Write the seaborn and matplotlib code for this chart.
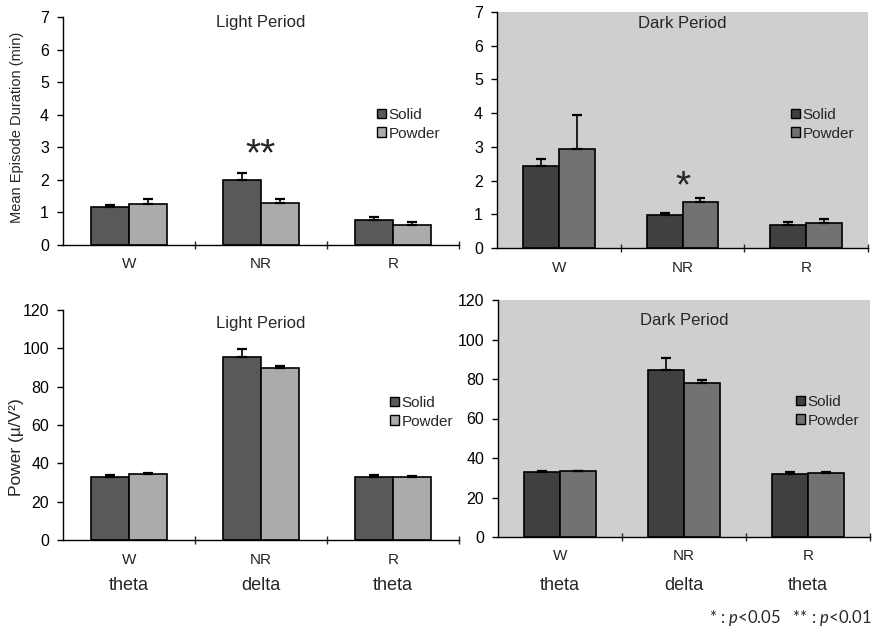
import numpy as np
import pandas as pd
import matplotlib
matplotlib.use("Agg")
import matplotlib.pyplot as plt
from matplotlib.patches import Patch
import seaborn as sns

# ---------------- data ----------------
stages = ["W", "NR", "R"]
groups = ["Solid", "Powder"]
bands = ["theta", "delta", "theta"]

dur_light_solid = [1.16, 2.01, 0.77]
dur_light_solid_err = [0.08, 0.20, 0.10]
dur_light_powder = [1.27, 1.30, 0.61]
dur_light_powder_err = [0.15, 0.11, 0.11]

dur_dark_solid = [2.44, 0.97, 0.67]
dur_dark_solid_err = [0.19, 0.06, 0.11]
dur_dark_powder = [2.95, 1.36, 0.75]
dur_dark_powder_err = [1.0, 0.12, 0.12]

pow_light_solid = [33.0, 95.3, 32.7]
pow_light_solid_err = [1.0, 4.2, 1.2]
pow_light_powder = [34.4, 89.7, 33.0]
pow_light_powder_err = [0.4, 1.3, 0.4]

pow_dark_solid = [32.8, 84.7, 32.1]
pow_dark_solid_err = [0.7, 5.9, 1.0]
pow_dark_powder = [33.4, 77.9, 32.3]
pow_dark_powder_err = [0.2, 1.6, 0.7]

sig_light = ["", "**", ""]
sig_dark = ["", "*", ""]

# ---------------- style ----------------
sns.set_style("white")
plt.rcParams["font.family"] = ["Liberation Sans", "DejaVu Sans"]
plt.rcParams["mathtext.fontset"] = "custom"
plt.rcParams["mathtext.rm"] = "Lato"
plt.rcParams["mathtext.it"] = "Lato:italic"

light_colors = {"Solid": "#595959", "Powder": "#ababab"}
dark_colors = {"Solid": "#404040", "Powder": "#727272"}
dark_bg = "#cfcfcf"

fig = plt.figure(figsize=(8.77, 6.33), dpi=100)
fig.patch.set_facecolor("white")

W, H = 877.0, 633.0


def ax_at(left, top, right, bottom):
    return fig.add_axes([left / W, 1 - bottom / H, (right - left) / W, (bottom - top) / H])


def make_df(solid, powder):
    return pd.DataFrame({
        "stage": stages * 2,
        "group": ["Solid"] * 3 + ["Powder"] * 3,
        "value": list(solid) + list(powder),
    })


def panel(ax, solid, serr, powder, perr, colors, bg, ylim, yticks, title,
          title_y, sig, sig_y, legend_xy):
    df = make_df(solid, powder)
    sns.barplot(data=df, x="stage", y="value", hue="group", order=stages,
                hue_order=groups, palette=colors, width=0.58, errorbar=None,
                edgecolor="black", linewidth=1.2, legend=False, ax=ax,
                saturation=1)
    errs = [serr, perr]
    for cont, e in zip(ax.containers, errs):
        xs = [p.get_x() + p.get_width() / 2 for p in cont.patches]
        hs = [p.get_height() for p in cont.patches]
        ax.errorbar(xs, hs, yerr=[np.zeros(len(e)), e], fmt="none",
                    ecolor="black", elinewidth=1.2, capsize=3.5, capthick=1.6,
                    zorder=1)
    ax.set_facecolor(bg)
    ax.set_xlim(-0.5, 2.5)
    ax.set_ylim(*ylim)
    ax.set_yticks(yticks)
    ax.set_xlabel("")
    ax.set_ylabel("")
    for s in ["top", "right"]:
        ax.spines[s].set_visible(False)
    for s in ["left", "bottom"]:
        ax.spines[s].set_color("black")
        ax.spines[s].set_linewidth(1.0)
    ax.tick_params(axis="y", direction="out", length=4, width=1, labelsize=11.5,
                   left=True, pad=6, colors="black")
    ax.tick_params(axis="x", which="major", length=0, labelsize=11, pad=9)
    ax.set_xticks([0.5, 1.5, 2.5], minor=True)
    ax.tick_params(axis="x", which="minor", direction="inout", length=6, width=1,
                   bottom=True)
    ax.text(1.0, title_y, title, transform=ax.get_xaxis_transform(),
            ha="center", va="center", fontsize=12)
    for i, s in enumerate(sig):
        if s:
            ax.text(i, sig_y, s, ha="center", va="center", fontsize=28)
    handles = [Patch(facecolor=colors[g], edgecolor="black", linewidth=1.0)
               for g in groups]
    fig.legend(handles, groups, loc="upper left",
               bbox_to_anchor=(legend_xy[0] / W, 1 - legend_xy[1] / H),
               frameon=False, fontsize=11, handlelength=0.6, handleheight=0.6,
               handletextpad=0.15, labelspacing=0.3, borderpad=0,
               borderaxespad=0)


ax1 = ax_at(63, 17, 459, 245)
panel(ax1, dur_light_solid, dur_light_solid_err, dur_light_powder,
      dur_light_powder_err, light_colors, "white", (0, 7), range(0, 8),
      "Light Period", 0.975, sig_light, 2.75, (377, 108))

ax2 = ax_at(497, 12, 868, 248)
panel(ax2, dur_dark_solid, dur_dark_solid_err, dur_dark_powder,
      dur_dark_powder_err, dark_colors, dark_bg, (0, 7), range(0, 8),
      "Dark Period", 0.95, sig_dark, 1.8, (791, 108))

ax3 = ax_at(63, 310, 459, 540)
panel(ax3, pow_light_solid, pow_light_solid_err, pow_light_powder,
      pow_light_powder_err, light_colors, "white", (0, 120), range(0, 121, 20),
      "Light Period", 0.94, ["", "", ""], 0, (390, 396))

ax4 = ax_at(498, 300, 870, 537)
panel(ax4, pow_dark_solid, pow_dark_solid_err, pow_dark_powder,
      pow_dark_powder_err, dark_colors, dark_bg, (0, 120), range(0, 121, 20),
      "Dark Period", 0.915, ["", "", ""], 0, (796, 395))

for ax, yoff in [(ax3, -0.20), (ax4, -0.205)]:
    for i, b in enumerate(bands):
        ax.text(i, yoff, b, transform=ax.get_xaxis_transform(), ha="center",
                va="center", fontsize=13)

fig.text(17 / W, 1 - 127 / H, "Mean Episode Duration (min)", rotation=90,
         ha="center", va="center", fontsize=10.5)
fig.text(17 / W, 1 - 447 / H, "Power (µ/V²)", rotation=90,
         ha="center", va="center", fontsize=12.5)

fig.text(872 / W, 1 - 618 / H, r"* : $p$<0.05   ** : $p$<0.01", ha="right",
         va="center", fontsize=12, family=["Lato", "DejaVu Sans"])

fig.savefig("out.png", dpi=100, facecolor="white")
